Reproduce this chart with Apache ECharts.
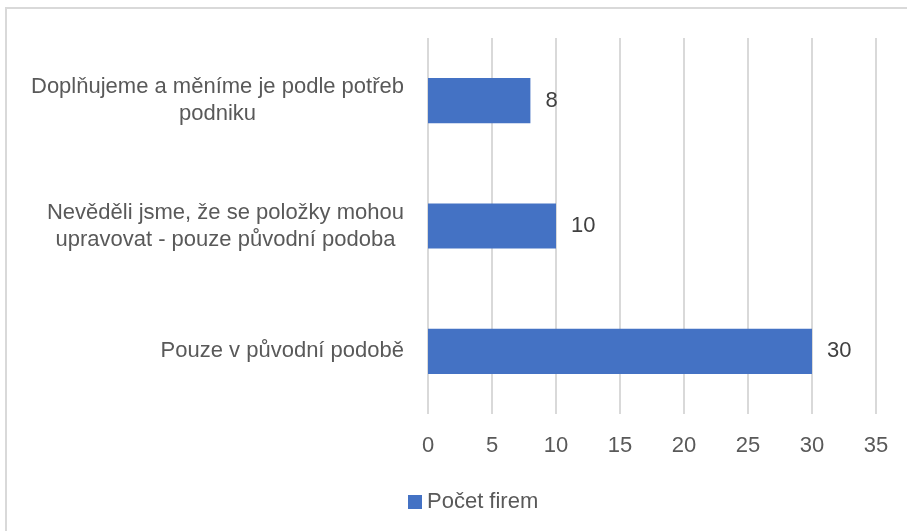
<!DOCTYPE html>
<html>
<head>
<meta charset="utf-8">
<script src="https://cdn.jsdelivr.net/npm/echarts@6/dist/echarts.min.js"></script>
<style>
  html, body { margin: 0; padding: 0; background: #fff; }
  #chart { width: 907px; height: 531px; }
</style>
</head>
<body>
<div id="chart"></div>
<script>
var categories = [
    'Doplňujeme a měníme je podle potřeb\npodniku',
    'Nevěděli jsme, že se položky mohou\nupravovat - pouze původní podoba',
    'Pouze v původní podobě'
];
var values = [8, 10, 30];
var seriesName = 'Počet firem';
var xMin = 0, xMax = 35, xStep = 5;

var font = 'Liberation Sans';
var chart = echarts.init(document.getElementById('chart'));

var option = {
    backgroundColor: '#ffffff',
    animation: false,
    graphic: [{
        type: 'rect',
        shape: { x: 6, y: 8, width: 940, height: 560 },
        style: { fill: 'none', stroke: '#d9d9d9', lineWidth: 2 },
        silent: true
    }],
    grid: {
        left: 428,
        right: 31,
        top: 38,
        bottom: 117
    },
    legend: {
        data: [seriesName],
        left: 403,
        top: 486,
        icon: 'rect',
        itemWidth: 14,
        itemHeight: 14,
        textStyle: { color: '#595959', fontSize: 22, fontFamily: font }
    },
    xAxis: {
        type: 'value',
        min: xMin,
        max: xMax,
        interval: xStep,
        axisLine: { show: false },
        axisTick: { show: false },
        splitLine: { lineStyle: { color: '#d9d9d9', width: 2 } },
        axisLabel: { color: '#595959', fontSize: 22, fontFamily: font, margin: 21 }
    },
    yAxis: {
        type: 'category',
        inverse: true,
        data: categories,
        axisLine: { show: false },
        axisTick: { show: false },
        axisLabel: {
            margin: 24,
            formatter: function (v) {
                return v.split('\n').map(function (l) { return '{c|' + l + '}'; }).join('\n');
            },
            rich: {
                c: { align: 'center', color: '#595959', fontSize: 22, fontFamily: font, lineHeight: 27 }
            }
        }
    },
    series: [{
        name: seriesName,
        type: 'bar',
        data: values,
        barCategoryGap: '64%',
        itemStyle: { color: '#4472c4' },
        label: {
            show: true,
            position: 'right',
            distance: 15,
            color: '#404040',
            fontSize: 22,
            fontFamily: font
        }
    }]
};

chart.setOption(option);
window.addEventListener('resize', function () {
    chart.resize();
});
</script>
</body>
</html>
